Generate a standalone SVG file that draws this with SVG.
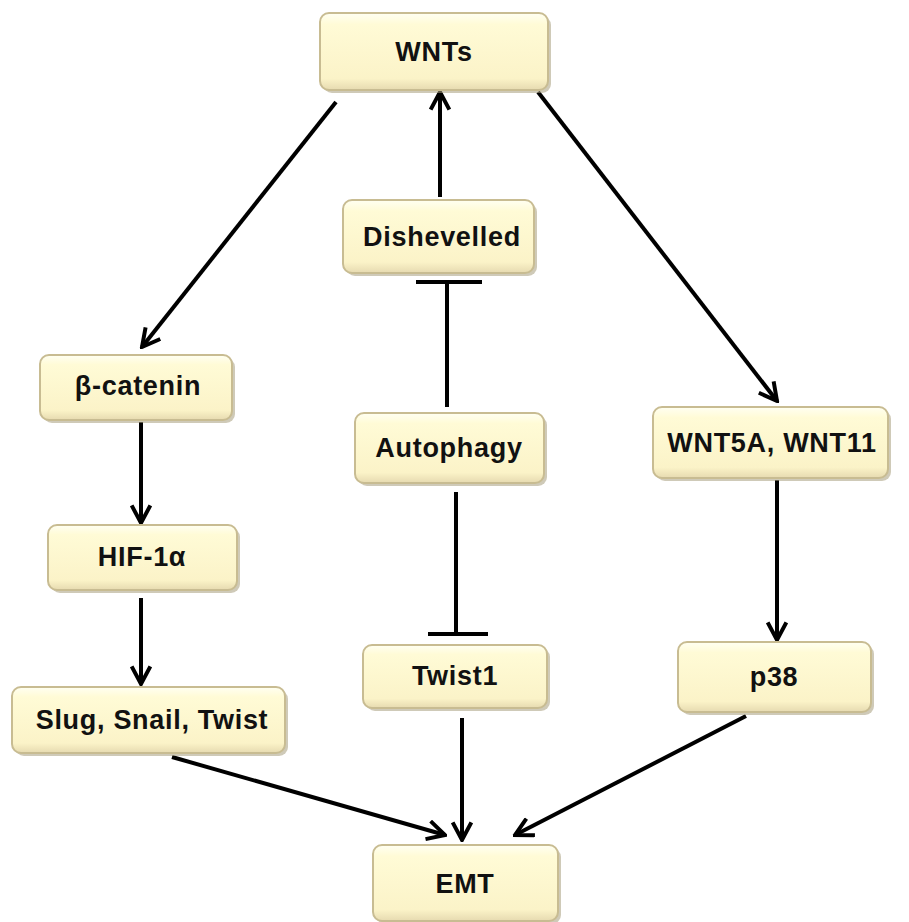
<svg xmlns="http://www.w3.org/2000/svg" width="909" height="922" viewBox="0 0 909 922">
<style>
.box{fill:url(#g);stroke:#C8BC92;stroke-width:2}
.sh{fill:#A89E7E;opacity:0.55}
.lbl{font-family:"Liberation Sans",Arial,sans-serif;font-weight:bold;font-size:27px;letter-spacing:0.7px;fill:#111;text-anchor:middle;dominant-baseline:central}
.ln{stroke:#000;stroke-width:4;fill:none}
.arr{marker-end:url(#ah)}
</style>
<defs>
<linearGradient id="g" x1="0" y1="0" x2="0" y2="1">
<stop offset="0" stop-color="#FFFFF2"/>
<stop offset="0.15" stop-color="#FFFBD6"/>
<stop offset="0.85" stop-color="#FBF3C8"/>
<stop offset="1" stop-color="#E6DAB0"/>
</linearGradient>
<marker id="ah" viewBox="0 0 20 20" refX="18" refY="10" markerWidth="5.5" markerHeight="5.5" markerUnits="strokeWidth" orient="auto">
<path d="M2,1.5 L18,10 L2,18.5" fill="none" stroke="#000" stroke-width="3.6" stroke-linejoin="miter"/>
</marker>
</defs>
<g id="connectors">
<line class="ln arr" x1="336" y1="102" x2="142" y2="347"/>
<line class="ln arr" x1="538" y1="92" x2="777" y2="401"/>
<line class="ln arr" x1="440" y1="197" x2="440" y2="92"/>
<line class="ln" x1="447" y1="282" x2="447" y2="407"/>
<line class="ln" x1="416" y1="282" x2="482" y2="282"/>
<line class="ln" x1="456" y1="492" x2="456" y2="634"/>
<line class="ln" x1="428" y1="634" x2="488" y2="634"/>
<line class="ln arr" x1="141" y1="422" x2="141" y2="523"/>
<line class="ln arr" x1="141" y1="598" x2="141" y2="684"/>
<line class="ln arr" x1="777" y1="480" x2="777" y2="640"/>
<line class="ln arr" x1="172" y1="757" x2="445" y2="835"/>
<line class="ln arr" x1="462" y1="718" x2="462" y2="840"/>
<line class="ln arr" x1="746" y1="716" x2="515" y2="835"/>
</g>
<g id="n-wnts"><rect class="sh" x="323" y="16" width="228" height="77" rx="9"/><rect class="box" x="320" y="13" width="228" height="77" rx="9"/><text class="lbl" x="434" y="52">WNTs</text></g>
<g id="n-dishevelled"><rect class="sh" x="346" y="203" width="191" height="73" rx="9"/><rect class="box" x="343" y="200" width="191" height="73" rx="9"/><text class="lbl" x="442" y="237">Dishevelled</text></g>
<g id="n-autophagy"><rect class="sh" x="358" y="416" width="189" height="70" rx="9"/><rect class="box" x="355" y="413" width="189" height="70" rx="9"/><text class="lbl" x="449" y="448">Autophagy</text></g>
<g id="n-twist1"><rect class="sh" x="366" y="648" width="184" height="63" rx="9"/><rect class="box" x="363" y="645" width="184" height="63" rx="9"/><text class="lbl" x="455" y="676">Twist1</text></g>
<g id="n-bcatenin"><rect class="sh" x="43" y="358" width="192" height="65" rx="9"/><rect class="box" x="40" y="355" width="192" height="65" rx="9"/><text class="lbl" x="138" y="386">β-catenin</text></g>
<g id="n-hif"><rect class="sh" x="51" y="528" width="189" height="65" rx="9"/><rect class="box" x="48" y="525" width="189" height="65" rx="9"/><text class="lbl" x="142" y="557">HIF-1α</text></g>
<g id="n-slug"><rect class="sh" x="15" y="690" width="273" height="66" rx="9"/><rect class="box" x="12" y="687" width="273" height="66" rx="9"/><text class="lbl" x="152" y="720">Slug, Snail, Twist</text></g>
<g id="n-wnt5a"><rect class="sh" x="656" y="410" width="235" height="71" rx="9"/><rect class="box" x="653" y="407" width="235" height="71" rx="9"/><text class="lbl" x="772" y="443">WNT5A, WNT11</text></g>
<g id="n-p38"><rect class="sh" x="681" y="645" width="193" height="70" rx="9"/><rect class="box" x="678" y="642" width="193" height="70" rx="9"/><text class="lbl" x="774" y="677">p38</text></g>
<g id="n-emt"><rect class="sh" x="376" y="848" width="185" height="76" rx="9"/><rect class="box" x="373" y="845" width="185" height="76" rx="9"/><text class="lbl" x="465" y="884">EMT</text></g>
</svg>
